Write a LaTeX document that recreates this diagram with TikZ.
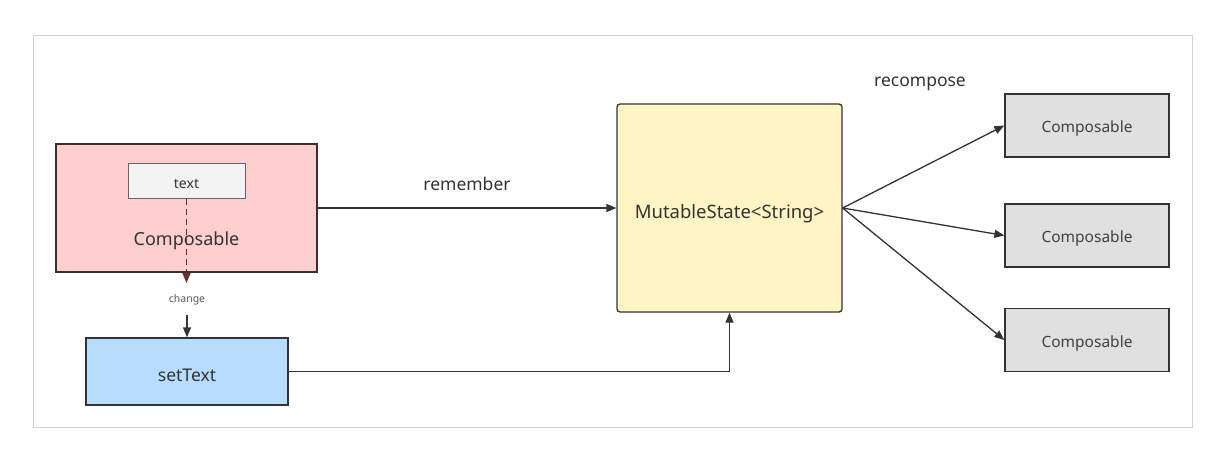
\documentclass[tikz,border=0pt]{standalone}
\usepackage{fontspec}
\setmainfont{Noto Sans}
\usetikzlibrary{arrows.meta}
\definecolor{edge}{HTML}{333333}
\definecolor{pinkfill}{HTML}{FFCECE}
\definecolor{bluefill}{HTML}{B8DCFD}
\definecolor{yellowfill}{HTML}{FFF4C3}
\definecolor{greyfill}{HTML}{E0E0E0}
\definecolor{chipfill}{HTML}{F3F3F3}
\definecolor{dashred}{HTML}{6A2E2E}
\definecolor{txt}{HTML}{333333}
\tikzset{
  box/.style={draw=edge, line width=1.3pt, inner sep=0pt, text=txt, text height=14pt, text depth=0pt},
  conn/.style={draw=edge, line width=1.3pt, -{Triangle[length=10pt,width=8pt]}},
  lbl/.style={text=txt, inner sep=0pt},
}
\begin{document}
\begin{tikzpicture}[x=1pt,y=-1pt]
\useasboundingbox (0,0) rectangle (1227,450);
\draw[draw=black!17, line width=0.8pt] (33,35) rectangle (1192,427);

% source composable with its text field
\node[box, fill=pinkfill, minimum width=261pt, minimum height=128pt] (comp) at (186.5,208) {};
\node[box, draw=black!60, line width=0.8pt, fill=chipfill, minimum width=117pt, minimum height=35pt, font=\fontsize{14}{16}\selectfont] (field) at (186.5,181) {text};
\node[lbl, font=\fontsize{18}{21}\selectfont] (complbl) at (186.5,241) {Composable};

% setter
\node[box, text height=19pt, fill=bluefill, minimum width=202pt, minimum height=67pt, font=\fontsize{17.5}{20}\selectfont] (set) at (187,371.5) {setText};
\node[lbl, font=\fontsize{10.5}{12}\selectfont, text=black!65] (chg) at (187,300) {change};

% state holder
\node[box, text height=21pt, fill=yellowfill, rounded corners=3pt, minimum width=225pt, minimum height=208pt, font=\fontsize{18.5}{21}\selectfont] (state) at (729.5,208) {MutableState<String>};

% recomposed consumers
\begin{scope}[every node/.style={box, fill=greyfill, minimum width=164pt, minimum height=63pt, font=\fontsize{15.5}{18}\selectfont, text=black!75}]
\node (c1) at (1087,125.5) {Composable};
\node (c2) at (1087,235.5) {Composable};
\node (c3) at (1087,340) {Composable};
\end{scope}

% connectors
\draw[conn, draw=dashred, dashed, dash pattern=on 6pt off 4pt] (field.south) -- (186.5,283);
\draw[conn] (chg.south) ++(0,10) -- (set.north);
\draw[conn] (comp.east) -- node[lbl, above=17pt, font=\fontsize{17.5}{20}\selectfont] {remember} (state.west);
\draw[conn] (set.east) -| (state.south);
\coordinate (fan) at (state.east);
\draw[conn] (fan) -- (c1.west);
\draw[conn] (fan) -- (c2.west);
\draw[conn] (fan) -- (c3.west);
\node[lbl, font=\fontsize{17.5}{20}\selectfont] (rec) at (920,84) {recompose};
\end{tikzpicture}
\end{document}
